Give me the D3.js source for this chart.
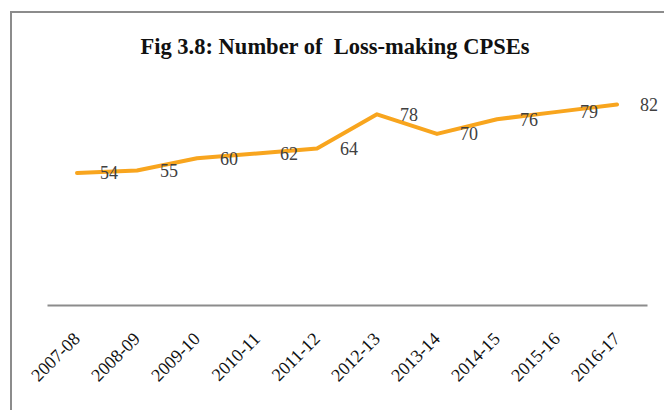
<!DOCTYPE html>
<html>
<head>
<meta charset="utf-8">
<script src="https://cdn.jsdelivr.net/npm/d3@7"></script>
<style>
  html, body { margin: 0; padding: 0; background: #fff; }
  svg { display: block; }
</style>
</head>
<body>
<svg id="chart"></svg>
<script>
var years = ["2007-08", "2008-09", "2009-10", "2010-11", "2011-12",
             "2012-13", "2013-14", "2014-15", "2015-16", "2016-17"];
var lossMaking = [54, 55, 60, 62, 64, 78, 70, 76, 79, 82];
var title = "Fig 3.8: Number of  Loss-making CPSEs";

var WIDTH = 664,
    HEIGHT = 410,
    MARGINS = { top: 85, right: 16, bottom: 105, left: 47 };

var svg = d3.select("#chart")
  .attr("width", WIDTH)
  .attr("height", HEIGHT);

// outer frame (only top and left edges show in the crop)
svg.append("rect")
  .attr("x", 11).attr("y", 12)
  .attr("width", 700).attr("height", 500)
  .attr("fill", "none")
  .attr("stroke", "#8c8c8c")
  .attr("stroke-width", 2);

svg.append("text")
  .attr("x", 335).attr("y", 54)
  .attr("text-anchor", "middle")
  .style("font-family", "'Liberation Serif', 'DejaVu Serif', serif")
  .style("font-weight", "bold")
  .style("font-size", "22.5px")
  .style("white-space", "pre")
  .attr("fill", "#111")
  .text(title);

var xScale = d3.scaleBand()
  .domain(years)
  .range([MARGINS.left, WIDTH - MARGINS.right - 1]);

var yScale = d3.scaleLinear()
  .domain([0, 90])
  .range([HEIGHT - MARGINS.bottom, MARGINS.top]);

var xAxis = d3.axisBottom(xScale).tickSize(0).tickPadding(0);

var gx = svg.append("g")
  .attr("transform", "translate(0," + yScale(0) + ")")
  .call(xAxis);

gx.select(".domain")
  .attr("stroke", "#8c8c8c")
  .attr("stroke-width", 2);

gx.selectAll(".tick text")
  .attr("text-anchor", "end")
  .attr("transform", "translate(4,35) rotate(-45)")
  .attr("dy", 0)
  .attr("y", 0)
  .style("font-family", "'Liberation Serif', 'DejaVu Serif', serif")
  .style("font-size", "18px")
  .attr("fill", "#111");

var pts = years.map(function(y, i) {
  return { year: y, value: lossMaking[i] };
});

var lineGen = d3.line()
  .x(function(d) { return xScale(d.year) + xScale.bandwidth() / 2; })
  .y(function(d) { return yScale(d.value); });

svg.append("path")
  .attr("d", lineGen(pts))
  .attr("fill", "none")
  .attr("stroke", "#f8a51e")
  .attr("stroke-width", 4)
  .attr("stroke-linejoin", "round")
  .attr("stroke-linecap", "round");

// data labels sit to the right of each point
svg.append("g").selectAll("text")
  .data(pts)
  .join("text")
  .attr("x", function(d) { return xScale(d.year) + xScale.bandwidth() / 2 + 23; })
  .attr("y", function(d) { return yScale(d.value); })
  .attr("dy", "0.35em")
  .style("font-family", "'Liberation Serif', 'DejaVu Serif', serif")
  .style("font-size", "18px")
  .attr("fill", "#404040")
  .text(function(d) { return d.value; });
</script>
</body>
</html>
